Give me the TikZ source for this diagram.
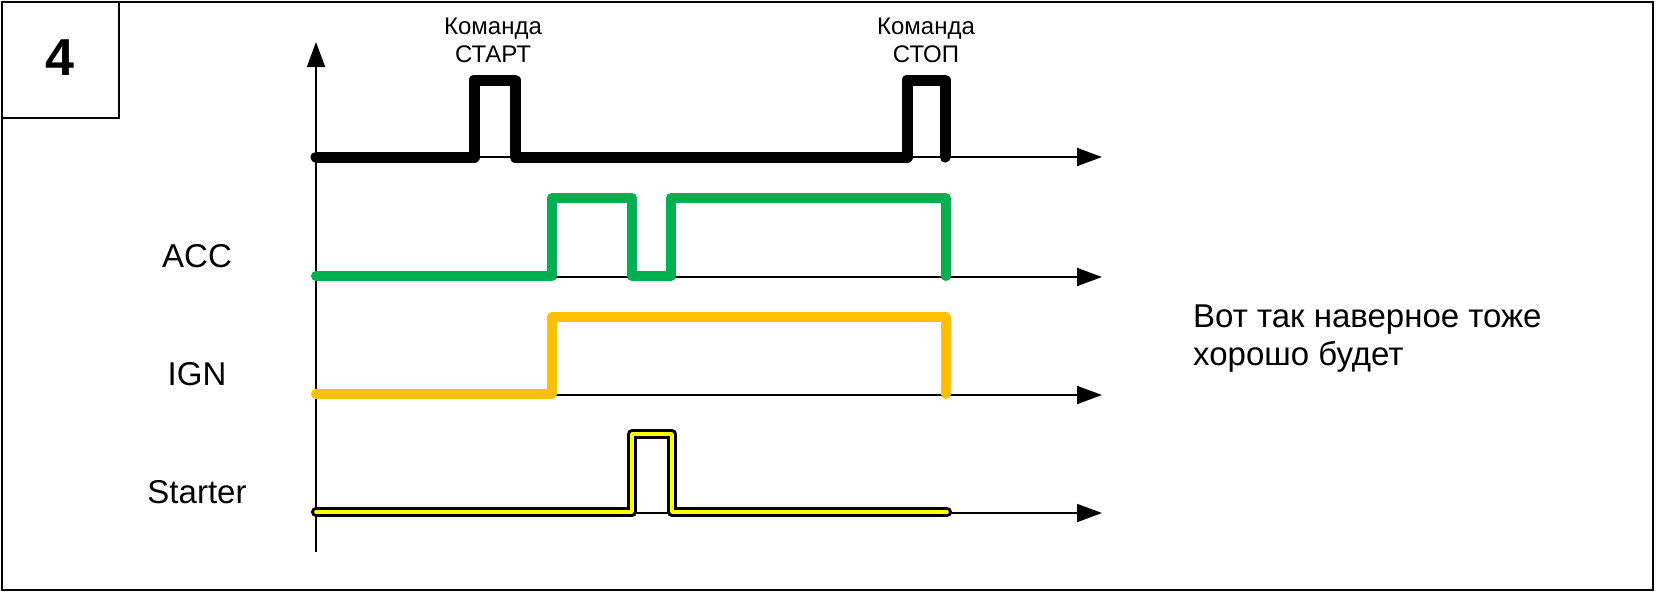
\documentclass[tikz,border=0pt]{standalone}
\usepackage{fontspec}
\setmainfont{Liberation Sans}
\usetikzlibrary{arrows.meta}
\definecolor{accgreen}{HTML}{00B050}
\definecolor{ignorange}{HTML}{FFC000}
\definecolor{stryellow}{HTML}{FFFF00}
\begin{document}
\begin{tikzpicture}[x=1pt,y=-1pt,
  frame/.style={line width=2pt},
  axisline/.style={line width=1.8pt, -{Triangle[length=25pt,width=18pt]}},
  sig/.style={line width=10pt, line cap=round, line join=round},
  lbl/.style={font=\fontsize{33}{38}\selectfont, inner sep=0pt, anchor=base},
  cmd/.style={font=\fontsize{24}{29}\selectfont, inner sep=0pt, anchor=base},
]
\useasboundingbox (0,0) rectangle (1656,592);
\draw[frame] (2,2) rectangle (1653,590);
\draw[frame] (2,2) rectangle (119,118);
\node[font=\bfseries\fontsize{52}{52}\selectfont, inner sep=0pt, anchor=base] (num) at (60,75) {4};

% axes
\coordinate (o0) at (316,552);
\coordinate (yt) at (316,42);
\coordinate (a1) at (316,157); \coordinate (e1) at (1102,157);
\coordinate (a2) at (316,277); \coordinate (e2) at (1102,277);
\coordinate (a3) at (316,395); \coordinate (e3) at (1102,395);
\coordinate (a4) at (316,513); \coordinate (e4) at (1102,513);
\draw[axisline] (o0) -- (yt);
\draw[axisline] (a1) -- (e1);
\draw[axisline] (a2) -- (e2);
\draw[axisline] (a3) -- (e3);
\draw[axisline] (a4) -- (e4);

% command signal
\draw[sig, line width=11pt, black] (316,157) -- (474,157) -- (474,80) -- (515,80) -- (515,157)
  -- (907,157) -- (907,80) -- (945,80) -- (945,157);
% ACC
\draw[sig, accgreen] (316,276) -- (552,276) -- (552,198) -- (632,198) -- (632,276)
  -- (671,276) -- (671,198) -- (946,198) -- (946,276);
% IGN
\draw[sig, ignorange] (316,394) -- (552,394) -- (552,317) -- (946,317) -- (946,394);
% Starter
\draw[sig, line width=3.3pt, double=stryellow, double distance=3.6pt, black]
  (316,512) -- (632,512) -- (632,434) -- (672,434) -- (672,512) -- (947,512);

% labels
\node[cmd] (cs1) at (493,34) {Команда};
\node[cmd] (cs2) at (493,62) {СТАРТ};
\node[cmd] (cp1) at (926,34) {Команда};
\node[cmd] (cp2) at (926,62) {СТОП};
\node[lbl] (acc) at (197,267) {ACC};
\node[lbl] (ign) at (197,385) {IGN};
\node[lbl] (str) at (197,503) {Starter};
\node[lbl, anchor=base west] (note1) at (1193,327) {Вот так наверное тоже};
\node[lbl, anchor=base west] (note2) at (1193,365) {хорошо будет};
\end{tikzpicture}
\end{document}
